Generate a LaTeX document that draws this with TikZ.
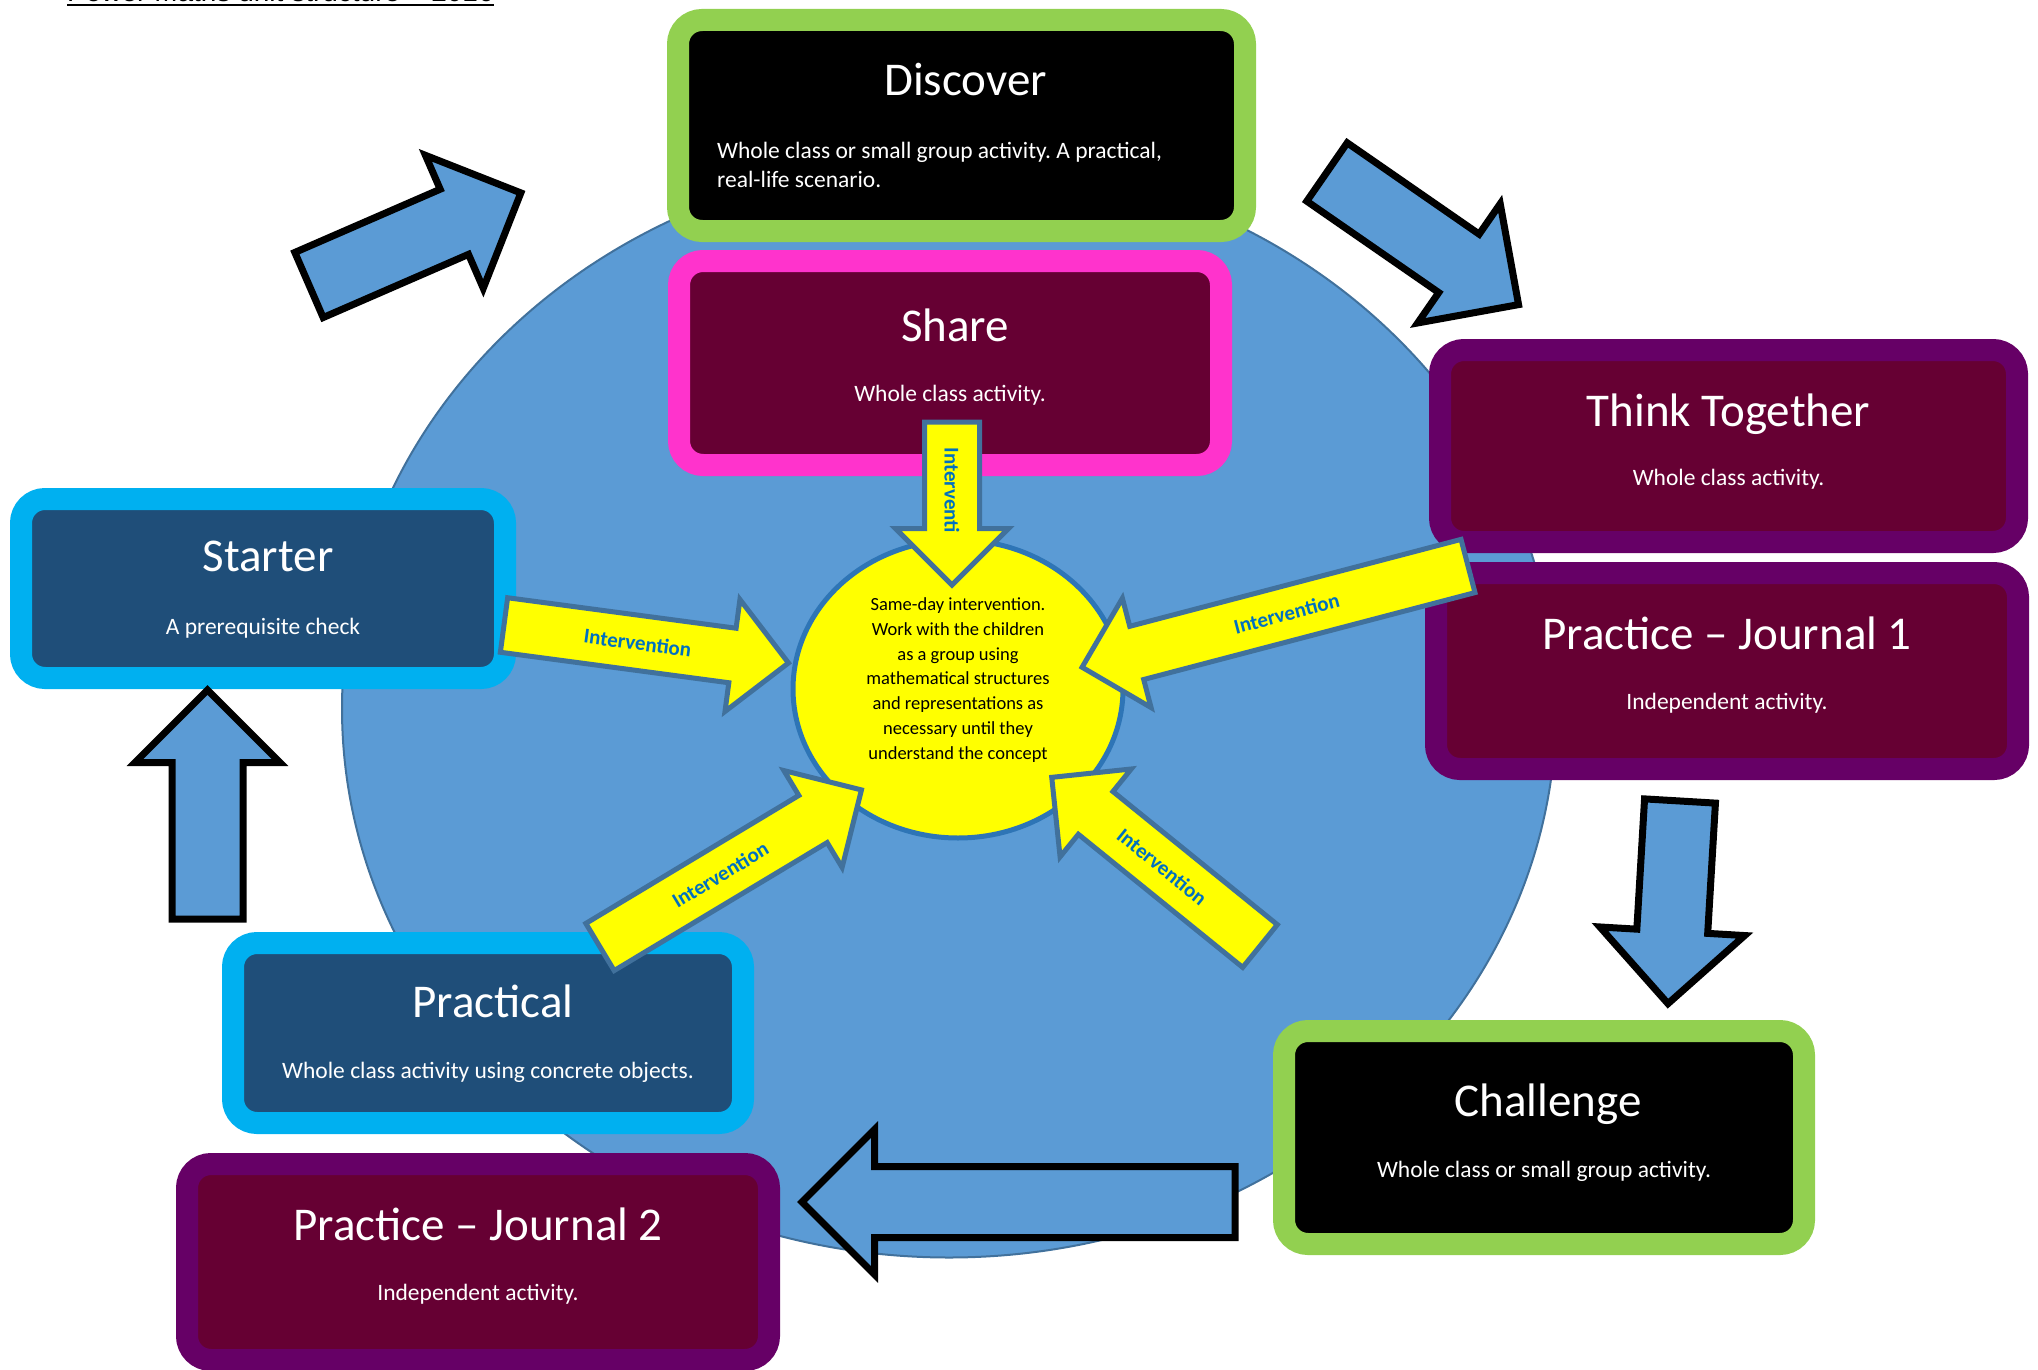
\documentclass[tikz,border=0pt]{standalone}
\usepackage{fontspec}
\setmainfont{Carlito}
\newfontfamily\headfont{Liberation Sans}
\usepackage{tikz}
\usetikzlibrary{shapes.geometric, shapes.arrows, calc}
\definecolor{FrameGreen}{HTML}{92D050}
\definecolor{FramePink}{HTML}{FF33CC}
\definecolor{FramePlum}{HTML}{660066}
\definecolor{FrameCyan}{HTML}{00B0F0}
\definecolor{Wine}{HTML}{660033}
\definecolor{Navy}{HTML}{1F4E79}
\definecolor{Sky}{HTML}{5B9BD5}
\definecolor{Steel}{HTML}{41719C}
\definecolor{Ring}{HTML}{2E75B6}
\definecolor{LabelBlue}{HTML}{0070C0}
\definecolor{Sun}{HTML}{FFFF00}
\frenchspacing
\tikzset{
  stage/.style={rectangle, rounded corners=24pt, line width=22pt, inner sep=0pt},
  stageTitle/.style={anchor=base, text=white, inner sep=0pt,
    font=\fontsize{47}{56}\selectfont},
  stageNote/.style={anchor=base, text=white, inner sep=0pt,
    font=\fontsize{23.5}{29}\selectfont},
  yarr/.style={single arrow, fill=Sun, draw=Steel, line width=5pt, anchor=tail,
    inner xsep=0pt, inner ysep=25pt, outer sep=0pt, minimum width=0pt,
    single arrow head extend=29pt, single arrow tip angle=90,
    single arrow head indent=0pt},
  barr/.style={single arrow, fill=Sky, draw=black, line width=7pt, anchor=tail,
    inner xsep=0pt, inner ysep=32pt, outer sep=0pt, minimum width=0pt,
    single arrow head extend=37pt, single arrow tip angle=90,
    single arrow head indent=0pt},
  lbl/.style={text=LabelBlue, inner sep=0pt,
    font=\fontsize{21}{25}\selectfont\bfseries},
}

\begin{document}
\begin{tikzpicture}[x=1pt, y=-1pt]
\useasboundingbox (0,0) rectangle (2038,1370);

% background wheel
\node[ellipse, fill=Sky, draw=Steel, line width=2pt, minimum width=1214pt,
  minimum height=1098pt] (wheel) at (949,708.5) {};

% lesson stages
\node[stage, fill=black, draw=FrameGreen, minimum width=567pt, minimum height=211pt] (disc) at (961.5,125.5) {};
\node[stageTitle] at ([xshift=4pt,yshift=29.5pt]disc.center) {Discover};
\node[anchor=north west, align=left, text=white, inner sep=0pt,
  font=\fontsize{23.5}{29}\selectfont] at ([xshift=50pt,yshift=-16pt]disc.west)
  {Whole class or small group activity. A practical,\\real-life scenario.};

\node[stage, fill=Wine, draw=FramePink, minimum width=542pt, minimum height=204pt] (share) at (950,363) {};
\node[stageTitle] at ([xshift=5pt,yshift=22pt]share.center) {Share};
\node[stageNote] at ([yshift=-38.5pt]share.center) {Whole class activity.};

\node[stage, fill=Wine, draw=FramePlum, minimum width=577pt, minimum height=192pt] (think) at (1728.5,446) {};
\node[stageTitle] at ([yshift=20pt]think.center) {Think Together};
\node[stageNote] at ([yshift=-39.5pt]think.center) {Whole class activity.};

\node[stage, fill=Wine, draw=FramePlum, minimum width=582pt, minimum height=196pt] (jrnA) at (1727,671) {};
\node[stageTitle] at ([yshift=22pt]jrnA.center) {Practice – Journal 1};
\node[stageNote] at ([yshift=-38.5pt]jrnA.center) {Independent activity.};

\node[stage, fill=Navy, draw=FrameCyan, minimum width=484pt, minimum height=179pt] (start) at (263,588.5) {};
\node[stageTitle] at ([xshift=5pt,yshift=17.5pt]start.center) {Starter};
\node[stageNote] at ([yshift=-46pt]start.center) {A prerequisite check};

\node[stage, fill=Navy, draw=FrameCyan, minimum width=510pt, minimum height=180pt] (pract) at (488,1033) {};
\node[stageTitle] at ([xshift=5pt,yshift=16pt]pract.center) {Practical};
\node[stageNote] at ([yshift=-45.5pt]pract.center) {Whole class activity using concrete objects.};

\node[stage, fill=Wine, draw=FramePlum, minimum width=582pt, minimum height=196pt] (jrnB) at (478,1262) {};
\node[stageTitle] at ([yshift=22pt]jrnB.center) {Practice – Journal 2};
\node[stageNote] at ([yshift=-38.5pt]jrnB.center) {Independent activity.};

\node[stage, fill=black, draw=FrameGreen, minimum width=520pt, minimum height=213pt] (chal) at (1544,1137.5) {};
\node[stageTitle] at ([xshift=4pt,yshift=21.5pt]chal.center) {Challenge};
\node[stageNote] at ([yshift=-40pt]chal.center) {Whole class or small group activity.};

% intervention hub
\node[ellipse, fill=Sun, draw=Ring, line width=5pt, minimum width=330pt,
  minimum height=298pt] (hub) at (958,689) {};
\node[align=center, inner sep=0pt, font=\fontsize{18.5}{24.8}\selectfont]
  (hubText) at ([yshift=9pt]hub.center)
  {Same-day intervention.\\Work with the children\\as a group using\\mathematical structures\\and representations as\\necessary until they\\understand the concept};

% intervention arrows
\node[yarr, rotate=-90, minimum height=163pt] (iTop) at (952,422) {};
\node[yarr, rotate=-7.6, minimum height=287pt] (iLeft) at (504,625) {};
\node[yarr, rotate=194.7, minimum height=399pt] (iRight) at (1468,566) {};
\node[yarr, rotate=31, minimum height=305pt] (iLowL) at (600,947) {};
\node[yarr, rotate=141, minimum height=268pt] (iLowR) at (1260,946) {};
\node[lbl, rotate=-90] at ($(iTop.tail)!0.42!(iTop.tip)$) {Interventi};
\node[lbl, rotate=-7.6] at ($(iLeft.tail)!0.47!(iLeft.tip)$) {Intervention};
\node[lbl, rotate=14.7] at ($(iRight.tail)!0.47!(iRight.tip)$) {Intervention};
\node[lbl, rotate=31] at ($(iLowL.tail)!0.46!(iLowL.tip)$) {Intervention};
\node[lbl, rotate=-39] at ($(iLowR.tail)!0.47!(iLowR.tip)$) {Intervention};

% cycle arrows
\node[barr, rotate=23.5, minimum height=231pt] (bUpR) at (309,285) {};
\node[barr, rotate=-34.7, minimum height=233pt] (bDnR) at (1327,172) {};
\node[barr, rotate=-93.4, minimum height=203pt] (bDown) at (1680,801) {};
\node[barr, rotate=180, minimum height=433pt] (bBack) at (1235,1202) {};
\node[barr, rotate=90, minimum height=229pt] (bUp) at (207.5,919) {};

% heading, mostly cut off by the page edge
\node[anchor=base west, inner sep=0pt, font=\headfont\fontsize{28}{32}\selectfont]
  (heading) at (67,2) {Power Maths unit structure – 2016};
\draw[line width=2pt] ([yshift=-3.5pt]heading.base west) -- ([yshift=-3.5pt]heading.base east);
\end{tikzpicture}
\end{document}
